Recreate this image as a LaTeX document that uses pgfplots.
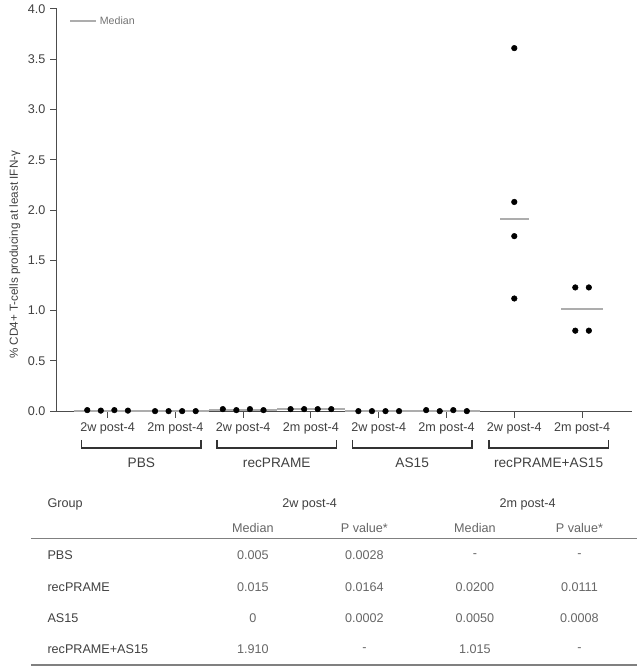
\documentclass[border=0pt]{standalone}
\usepackage{fontspec}
\setmainfont{Liberation Sans}
\usepackage{pgfplots}
\pgfplotsset{compat=1.18}
\definecolor{medc}{gray}{0.68}
\definecolor{axc}{gray}{0.3}
\definecolor{txc}{gray}{0.25}
\definecolor{numc}{gray}{0.4}
\begin{document}
\begin{tikzpicture}
\begin{scope}[x=0.75pt,y=-0.75pt]
  \useasboundingbox (0,0) rectangle (643,666);
\end{scope}
\begin{axis}[
  at={(42.75pt,-307.5pt)}, anchor=south west,
  scale only axis, width=433.5pt, height=303pt,
  xmin=0.25, xmax=8.74, ymin=0, ymax=4,
  axis x line=bottom, axis y line=left,
  axis line style={-, draw=axc, line width=0.9pt},
  xtick={1,...,8},
  xticklabels={2w post-4,2m post-4,2w post-4,2m post-4,2w post-4,2m post-4,2w post-4,2m post-4},
  ytick={0,0.5,...,4},
  tick align=outside, major tick length=5pt,
  tick style={draw=axc, line width=0.7pt},
  /pgf/number format/assume math mode=true,
  yticklabel style={/pgf/number format/.cd, fixed, fixed zerofill, precision=1},
  tick label style={font=\fontsize{9.5}{11}\selectfont, text=txc},
  clip=false,
  legend style={at={(0.015,0.995)}, anchor=north west, draw=none, fill=none,
    font=\fontsize{8}{9}\selectfont, text=black!55},
  legend image code/.code={\draw[medc, line width=1.3pt] (0,0) -- (19.5pt,0);},
]
% medians
\addplot[medc, line width=1.6pt] coordinates {(0.5,0.005) (1.5,0.005)};
\addlegendentry{Median}
\addplot[medc, line width=1.6pt, forget plot] coordinates {(1.5,0) (2.5,0)};
\addplot[medc, line width=1.6pt, forget plot] coordinates {(2.5,0.015) (3.5,0.015)};
\addplot[medc, line width=1.6pt, forget plot] coordinates {(3.5,0.02) (4.5,0.02)};
\addplot[medc, line width=1.6pt, forget plot] coordinates {(4.5,0) (5.5,0)};
\addplot[medc, line width=1.6pt, forget plot] coordinates {(5.5,0.005) (6.5,0.005)};
\addplot[medc, line width=1.6pt, forget plot] coordinates {(6.79,1.91) (7.21,1.91)};
\addplot[medc, line width=1.6pt, forget plot] coordinates {(7.69,1.015) (8.31,1.015)};
% individual values
\addplot[only marks, mark=*, mark size=2.1pt, black, forget plot] coordinates {
  (0.7,0.01) (0.9,0.005) (1.1,0.01) (1.3,0.005)
  (1.7,0) (1.9,0) (2.1,0) (2.3,0)
  (2.7,0.02) (2.9,0.01) (3.1,0.02) (3.3,0.01)
  (3.7,0.02) (3.9,0.02) (4.1,0.02) (4.3,0.02)
  (4.7,0) (4.9,0) (5.1,0) (5.3,0)
  (5.7,0.01) (5.9,0) (6.1,0.01) (6.3,0)
  (7,3.61) (7,2.08) (7,1.74) (7,1.12)
  (7.9,1.23) (8.1,1.23) (7.9,0.80) (8.1,0.80)
};
\end{axis}
\begin{scope}[x=0.75pt,y=-0.75pt]
  \node[rotate=90, font=\fontsize{8.8}{10}\selectfont, text=txc] at (15,253)
    {\% CD4+ T-cells producing at least IFN-γ};
  \foreach \c/\g in {142/PBS,278/recPRAME,414/AS15,551/recPRAME+AS15}{
    \draw[black!80, line width=1.1pt] (\c-60,439) -- (\c-60,447) -- (\c+60,447) -- (\c+60,439);
    \node[font=\fontsize{10.3}{12}\selectfont, text=txc] at (\c,462) {\g};
  }
  % table
  \begin{scope}[every node/.style={font=\fontsize{9.5}{11}\selectfont}]
    \node[anchor=west, text=txc] at (43,504) {Group};
    \node[text=txc] at (311,504) {2w post-4};
    \node[text=txc] at (530,504) {2m post-4};
    \foreach \x in {254,477}{\node[text=numc] at (\x,527) {Median};}
    \foreach \x in {366,582}{\node[text=numc] at (\x,527) {P value*};}
    \draw[black!50, line width=0.9pt] (31,538) -- (640,538);
    \foreach \y/\g/\a/\b/\cc/\d in {555/PBS/0.005/0.0028/-/-,
        587/recPRAME/0.015/0.0164/0.0200/0.0111,
        618/AS15/0/0.0002/0.0050/0.0008,
        649/recPRAME+AS15/1.910/-/1.015/-}{
      \node[anchor=west, text=txc] at (43,\y) {\g};
      \node[text=numc] at (254,\y) {\a};
      \node[text=numc] at (366,\y) {\b};
      \node[text=numc] at (477,\y) {\cc};
      \node[text=numc] at (582,\y) {\d};
    }
    \draw[black!50, line width=1.5pt] (31,664.5) -- (640,664.5);
  \end{scope}
\end{scope}
\end{tikzpicture}
\end{document}
